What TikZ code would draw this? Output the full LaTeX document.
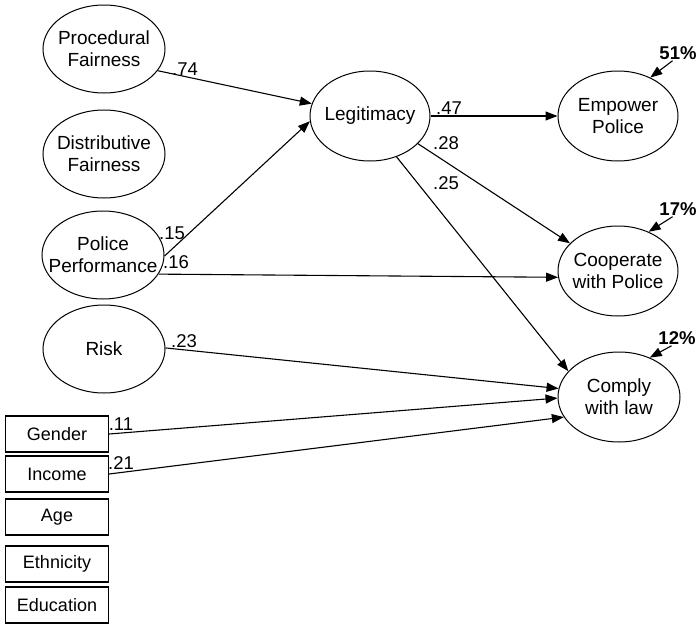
\documentclass[tikz,border=0pt]{standalone}
\usepackage{fontspec}
\setmainfont{Liberation Sans}
\usetikzlibrary{shapes.geometric,arrows.meta}
\begin{document}
\begin{tikzpicture}[x=1pt,y=-1pt,
  ell/.style={draw,ellipse,line width=1pt,minimum width=122pt,minimum height=88pt,inner xsep=-25pt,inner ysep=-12pt,align=center,font=\fontsize{19}{22}\selectfont},
  box/.style={draw,rectangle,line width=1.3pt,minimum width=103pt,minimum height=36pt,inner sep=0pt,font=\fontsize{18}{22}\selectfont},
  lab/.style={font=\fontsize{18.5}{22}\selectfont,inner sep=0pt},
  pct/.style={font=\bfseries\fontsize{18.5}{20}\selectfont,inner sep=1pt},
  arr/.style={line width=1.1pt,-{Triangle[length=12pt,width=9pt]}}
]
\useasboundingbox (0,0) rectangle (697,624);
% latent variables
\node[ell] (pf) at (104,49) {Procedural\\Fairness};
\node[ell] (df) at (104,154) {Distributive\\Fairness};
\node[ell] (pp) at (103,255) {Police\\Performance};
\node[ell] (risk) at (104,349) {Risk};
\node[ell,minimum width=120pt,minimum height=90pt] (leg) at (370,116) {Legitimacy};
\node[ell,minimum width=120pt,minimum height=90pt] (emp) at (618,116) {Empower\\Police};
\node[ell,minimum width=120pt,minimum height=90pt] (coop) at (618,271) {Cooperate\\with Police};
\node[ell,minimum width=122pt,minimum height=90pt] (comp) at (619,397) {Comply\\with law};
% boxes
\node[box] (gen) at (57,434) {Gender};
\node[box] (inc) at (57,474) {Income};
\node[box] (age) at (57,517) {Age};
\node[box] (eth) at (57,564) {Ethnicity};
\node[box] (edu) at (57,605) {Education};
% paths
\draw[arr] (pf.-22) -- (leg.168);
\draw[arr] (pp.-1) -- (leg.185);
\draw[arr] (pp.-19) -- (coop.186);
\draw[arr] (leg.east) -- (emp.west);
\draw[arr] (leg.-30) -- (coop.150);
\draw[arr] (leg.-57) -- (comp.153);
\draw[arr] (risk.1) -- (comp.172);
\draw[arr] (gen.east) -- (comp.181);
\draw[arr] (inc.east) -- (comp.200);
% coefficients
\node[lab] (c74) at (185,69) {.74};
\node[lab] (c15) at (172,233) {.15};
\node[lab] (c16) at (176,262) {.16};
\node[lab] (c47) at (449,108) {.47};
\node[lab] (c28) at (446,143) {.28};
\node[lab] (c25) at (446,183) {.25};
\node[lab] (c23) at (184,341) {.23};
\node[lab] (c11) at (121,424) {.11};
\node[lab] (c21) at (121,463) {.21};
% explained variance
\node[pct] (p1) at (678,53) {51\%};
\node[pct] (p2) at (678,209) {17\%};
\node[pct] (p3) at (677,338) {12\%};
\draw[arr] (p1.235) -- (emp.50);
\draw[arr] (p2.235) -- (coop.52);
\draw[arr] (p3.235) -- (comp.52);
\end{tikzpicture}
\end{document}
